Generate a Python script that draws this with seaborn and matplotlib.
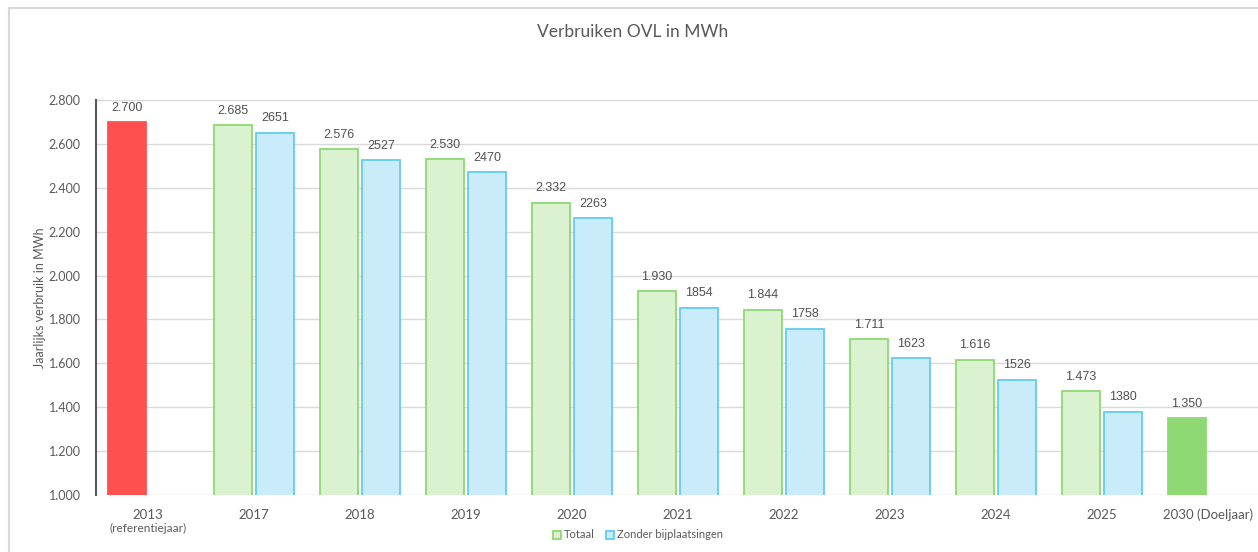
import matplotlib
matplotlib.use("Agg")
import matplotlib.pyplot as plt
import matplotlib.patches as mpatches
import matplotlib.ticker as mticker
import numpy as np
import pandas as pd
import seaborn as sns

# ---- data ----
categories = ["2013", "2017", "2018", "2019", "2020", "2021", "2022", "2023", "2024", "2025", "2030 (Doeljaar)"]
totaal = [2700, 2685, 2576, 2530, 2332, 1930, 1844, 1711, 1616, 1473, 1350]
zonder = [np.nan, 2651, 2527, 2470, 2263, 1854, 1758, 1623, 1526, 1380, np.nan]
series_names = ["Totaal", "Zonder bijplaatsingen"]
title = "Verbruiken OVL in MWh"
ylabel = "Jaarlijks verbruik in MWh"

df = pd.DataFrame({
    "jaar": categories * 2,
    "serie": [series_names[0]] * len(categories) + [series_names[1]] * len(categories),
    "waarde": totaal + zonder,
})

sns.set_theme(style="white")
plt.rcParams["font.family"] = ["Lato", "DejaVu Sans"]

GREEN_FILL = "#DAF2D0"
GREEN_EDGE = "#8ED973"
BLUE_FILL = "#C9EBFA"
BLUE_EDGE = "#61CBF3"
RED = "#FF5050"
GREEN_TARGET = "#8ED973"
TXT = "#595959"

fig = plt.figure(figsize=(12.58, 5.52), dpi=100)
ax = fig.add_axes([96 / 1258, 57 / 552, (1258 - 96) / 1258, 395 / 552])

sns.barplot(data=df, x="jaar", y="waarde", hue="serie", order=categories,
            hue_order=series_names, palette=[GREEN_FILL, BLUE_FILL],
            gap=0.1, ax=ax, legend=False, linewidth=1.3, saturation=1)


def dotfmt(v):
    return f"{int(round(v)):,}".replace(",", ".")


def label(p, text):
    ax.annotate(text, (p.get_x() + p.get_width() / 2, p.get_height()),
                xytext=(0, 6), textcoords="offset points", ha="center", va="bottom",
                fontsize=9, color="#505050", family="Liberation Sans")


c_tot, c_zon = ax.containers[0], ax.containers[1]
tot_patches = [p for p in c_tot.patches if p is not None]
zon_patches = [p for p in c_zon.patches if p is not None]
n = len(tot_patches)
for i, p in enumerate(tot_patches):
    if i == 0:
        p.set_facecolor(RED); p.set_edgecolor(RED)
    elif i == n - 1:
        p.set_facecolor(GREEN_TARGET); p.set_edgecolor(GREEN_TARGET)
    else:
        p.set_facecolor(GREEN_FILL); p.set_edgecolor(GREEN_EDGE)
    label(p, dotfmt(p.get_height()))
for p in zon_patches:
    if np.isnan(p.get_height()) or p.get_height() == 0:
        continue
    p.set_facecolor(BLUE_FILL); p.set_edgecolor(BLUE_EDGE)
    label(p, f"{int(round(p.get_height()))}")

ax.set_ylim(1000, 2800)
ax.set_xlim(-0.49, 10.47)
ax.yaxis.set_major_locator(mticker.MultipleLocator(200))
ax.yaxis.set_major_formatter(mticker.FuncFormatter(lambda v, p: dotfmt(v)))
ax.grid(axis="y", color="#D9D9D9", linewidth=1)
ax.set_axisbelow(True)
for s in ["top", "right", "bottom"]:
    ax.spines[s].set_visible(False)
ax.spines["left"].set_color("#595959")
ax.spines["left"].set_linewidth(1.5)

ax.tick_params(axis="y", labelsize=9, labelcolor=TXT, length=0, pad=11)
ax.tick_params(axis="x", labelsize=9.5, labelcolor=TXT, length=0, pad=10)
ax.set_xlabel("")
ax.set_ylabel(ylabel, fontsize=9, color=TXT, labelpad=2)

ax.text(0, -0.072, "(referentiejaar)", transform=ax.get_xaxis_transform(),
        ha="center", va="top", fontsize=8.5, color=TXT)

fig.text(633 / 1258, 1 - 32 / 552, title, ha="center", va="center", fontsize=12.5, color=TXT)

handles = [mpatches.Patch(facecolor=GREEN_FILL, edgecolor=GREEN_EDGE, linewidth=1.3, label=series_names[0]),
           mpatches.Patch(facecolor=BLUE_FILL, edgecolor=BLUE_EDGE, linewidth=1.3, label=series_names[1])]
fig.legend(handles=handles, loc="center", bbox_to_anchor=(638 / 1258, 1 - 535 / 552), ncol=2,
           frameon=False, fontsize=8, handlelength=0.7, handleheight=0.7, handletextpad=0.3,
           columnspacing=1.0, labelcolor=TXT)

# chart frame
fig.add_artist(mpatches.Rectangle((8.5 / 1258, -0.1), 1.2, 1 - 7.5 / 552 + 0.1,
                                  transform=fig.transFigure, fill=False,
                                  edgecolor="#D9D9D9", linewidth=1.5))

fig.savefig("out.png", dpi=100)
